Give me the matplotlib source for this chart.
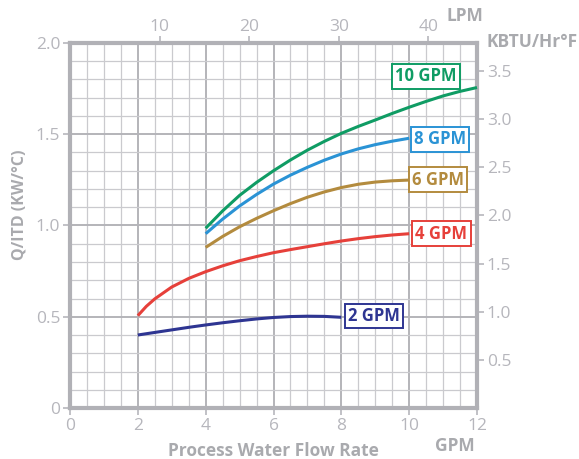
import matplotlib
matplotlib.use("Agg")
import matplotlib.pyplot as plt
import numpy as np
from matplotlib.ticker import FixedLocator

# ---------------- data ----------------
gpm2_x = [2, 2.5, 3, 3.5, 4, 4.5, 5, 5.5, 6, 6.5, 7, 7.5, 8]
gpm2_y = [0.400, 0.414, 0.428, 0.442, 0.455, 0.467, 0.478, 0.488, 0.496, 0.501, 0.503, 0.502, 0.497]

gpm4_x = [2, 2.25, 2.5, 3, 3.5, 4, 4.5, 5, 5.5, 6, 6.5, 7, 7.5, 8, 8.5, 9, 9.5, 10]
gpm4_y = [0.506, 0.557, 0.598, 0.663, 0.710, 0.747, 0.779, 0.807, 0.830, 0.851,
          0.868, 0.884, 0.900, 0.915, 0.928, 0.939, 0.948, 0.955]

gpm6_x = [4, 4.5, 5, 5.5, 6, 6.5, 7, 7.5, 8, 8.5, 9, 9.5, 10]
gpm6_y = [0.880, 0.940, 0.993, 1.039, 1.081, 1.120, 1.155, 1.184, 1.208, 1.226, 1.238, 1.245, 1.249]

gpm8_x = [4, 4.5, 5, 5.5, 6, 6.5, 7, 7.5, 8, 8.5, 9, 9.5, 10]
gpm8_y = [0.955, 1.035, 1.107, 1.170, 1.227, 1.276, 1.319, 1.358, 1.392, 1.420, 1.443, 1.462, 1.478]

gpm10_x = [4, 4.5, 5, 5.5, 6, 6.5, 7, 7.5, 8, 8.5, 9, 9.5, 10, 10.5, 11, 11.5, 12]
gpm10_y = [0.985, 1.080, 1.165, 1.236, 1.300, 1.359, 1.413, 1.461, 1.505, 1.543,
           1.578, 1.614, 1.648, 1.680, 1.710, 1.735, 1.756]

series_labels = ["2 GPM", "4 GPM", "6 GPM", "8 GPM", "10 GPM"]
series_colors = ["#2E3592", "#E6403A", "#B38B3E", "#2A93D5", "#0F9C64"]

x_ticks = [0, 2, 4, 6, 8, 10, 12]
y_ticks = [0, 0.5, 1.0, 1.5, 2.0]
y_ticklabels = ["0", "0.5", "1.0", "1.5", "2.0"]
lpm_ticks = [10, 20, 30, 40]
kbtu_ticks = [0.5, 1.0, 1.5, 2.0, 2.5, 3.0, 3.5]

GPM_TO_LPM = 3.78541
KW_TO_KBTU = 3.41214 / 1.8

# label box positions (layout)
label_pos = [(8.96, 0.504), (10.95, 0.955), (10.85, 1.251), (10.91, 1.472), (10.49, 1.818)]

# ---------------- style ----------------
plt.rcParams['font.family'] = ['Open Sans', 'DejaVu Sans']
TICK_C = "#B6B6BC"
LAB_C = "#A9AAAE"
FRAME_C = "#B1B1B6"
TICK_FS = 12.5
LAB_FS = 12.5

fig = plt.figure(figsize=(5.79, 4.59), dpi=100)
ax = fig.add_axes([70/579, 1-408/459, (477-70)/579, (408-43)/459])

ax.set_xlim(0, 12)
ax.set_ylim(0, 2.0)

# grid
for xv in np.arange(0.5, 12, 0.5):
    major = abs(xv/2 - round(xv/2)) < 1e-9
    ax.axvline(xv, color="#B4B4B9" if major else "#CACACE", lw=1.4 if major else 0.9, zorder=1)
for yv in np.arange(0.1, 2.0, 0.1):
    major = abs(yv/0.5 - round(yv/0.5)) < 1e-9
    ax.axhline(yv, color="#B4B4B9" if major else "#CACACE", lw=1.4 if major else 0.9, zorder=1)

xs = [gpm2_x, gpm4_x, gpm6_x, gpm8_x, gpm10_x]
ys = [gpm2_y, gpm4_y, gpm6_y, gpm8_y, gpm10_y]
for x, y, c in zip(xs, ys, series_colors):
    ax.plot(x, y, color=c, lw=2.2, solid_capstyle='butt', solid_joinstyle='round',
            zorder=3, clip_on=False)

for (lx, ly), lab, c in zip(label_pos, series_labels, series_colors):
    ax.text(lx, ly, lab, color=c, fontsize=12, fontweight='bold', ha='center', va='center',
            zorder=5, bbox=dict(boxstyle='square,pad=0.2', fc='white', ec=c, lw=1.4))

for s in ax.spines.values():
    s.set_color(FRAME_C)
    s.set_linewidth(3)

ax.set_xticks(x_ticks)
ax.set_yticks(y_ticks)
ax.set_yticklabels(y_ticklabels)
ax.tick_params(axis='both', colors=TICK_C, labelcolor=TICK_C, labelsize=TICK_FS,
               length=5, width=1.2, direction='out')
ax.tick_params(axis='x', pad=2)
ax.tick_params(axis='y', pad=2)

secx = ax.secondary_xaxis('top', functions=(lambda g: g*GPM_TO_LPM, lambda l: l/GPM_TO_LPM))
secx.xaxis.set_major_locator(FixedLocator(lpm_ticks))
secx.tick_params(colors=TICK_C, labelcolor=TICK_C, labelsize=TICK_FS, length=5, width=1.2, pad=1)
secx.spines['top'].set_visible(False)

secy = ax.secondary_yaxis('right', functions=(lambda k: k*KW_TO_KBTU, lambda b: b/KW_TO_KBTU))
secy.yaxis.set_major_locator(FixedLocator(kbtu_ticks))
secy.tick_params(colors=TICK_C, labelcolor=TICK_C, labelsize=TICK_FS, length=5, width=1.2, pad=2)
secy.spines['right'].set_visible(False)

fig.text(19/579, 1-205/459, "Q/ITD (KW/°C)", rotation=90, ha='center', va='center',
         color=LAB_C, fontsize=11.5, fontweight='bold')
fig.text(273/579, 1-451/459, "Process Water Flow Rate", ha='center', va='center',
         color=LAB_C, fontsize=LAB_FS, fontweight='bold')
fig.text(455/579, 1-446/459, "GPM", ha='center', va='center',
         color=LAB_C, fontsize=LAB_FS, fontweight='bold')
fig.text(465/579, 1-16/459, "LPM", ha='center', va='center',
         color=LAB_C, fontsize=LAB_FS, fontweight='bold')
fig.text(578/579, 1-42/459, "KBTU/Hr°F", ha='right', va='center',
         color=LAB_C, fontsize=LAB_FS, fontweight='bold')

fig.savefig("out.png", dpi=100)
